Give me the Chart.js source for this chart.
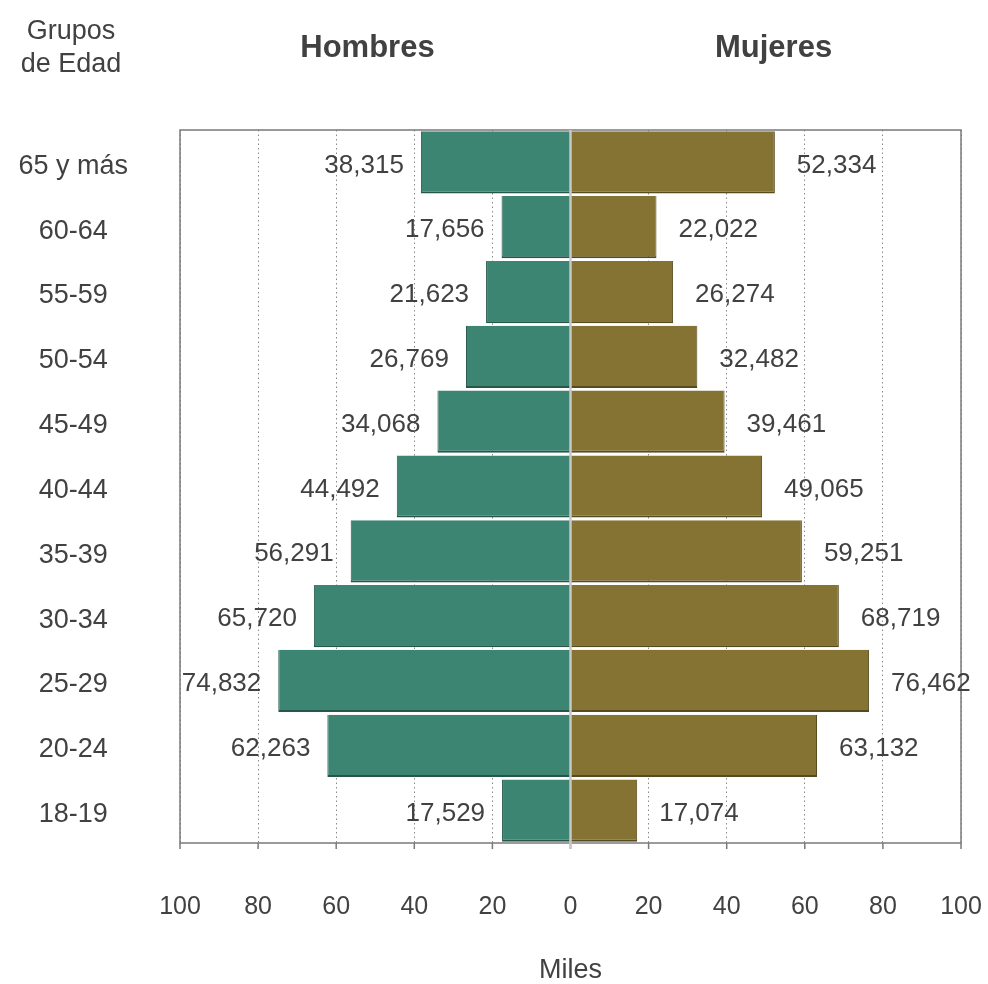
<!DOCTYPE html>
<html>
<head>
<meta charset="utf-8">
<script src="https://cdn.jsdelivr.net/npm/chart.js@4/dist/chart.umd.min.js"></script>
<style>
  html, body { margin: 0; padding: 0; background: #fff; }
  canvas { display: block; }
</style>
</head>
<body>
<canvas id="chart" width="988" height="984"></canvas>
<script>
// grupos de edad, de arriba hacia abajo
const ageGroups = ["65 y más", "60-64", "55-59", "50-54", "45-49", "40-44",
  "35-39", "30-34", "25-29", "20-24", "18-19"];
const menValues = [38315, 17656, 21623, 26769, 34068, 44492, 56291, 65720, 74832, 62263, 17529];
const womenValues = [52334, 22022, 26274, 32482, 39461, 49065, 59251, 68719, 76462, 63132, 17074];
const xTickValues = [-100, -80, -60, -40, -20, 0, 20, 40, 60, 80, 100];

const textColor = "#414141";
const fontFamily = "'Liberation Sans', Arial, sans-serif";

// frame, center line and the small tick marks under the axis
const framePlugin = {
  id: "frame",
  afterDatasetsDraw: (chart) => {
    const { ctx, chartArea } = chart;
    const xScale = chart.scales.x;
    ctx.save();
    ctx.strokeStyle = "#7a7a7a";
    ctx.lineWidth = 1.5;
    ctx.strokeRect(chartArea.left, chartArea.top, chartArea.right - chartArea.left, chartArea.bottom - chartArea.top);
    xTickValues.forEach((v) => {
      const x = xScale.getPixelForValue(v);
      ctx.beginPath();
      ctx.moveTo(x, chartArea.bottom);
      ctx.lineTo(x, chartArea.bottom + 6);
      ctx.stroke();
    });
    const x0 = xScale.getPixelForValue(0);
    ctx.strokeStyle = "#c8c8c8";
    ctx.lineWidth = 2.5;
    ctx.beginPath();
    ctx.moveTo(x0, chartArea.top);
    ctx.lineTo(x0, chartArea.bottom + 6);
    ctx.stroke();
    ctx.restore();
  },
};

// numbers next to each bar
const valueLabels = {
  id: "valueLabels",
  afterDatasetsDraw: (chart) => {
    const { ctx } = chart;
    ctx.save();
    ctx.font = "26px " + fontFamily;
    ctx.fillStyle = textColor;
    ctx.textBaseline = "middle";
    chart.data.datasets.forEach((ds, d) => {
      const meta = chart.getDatasetMeta(d);
      const raw = d === 0 ? menValues : womenValues;
      meta.data.forEach((bar, i) => {
        const label = raw[i].toLocaleString("en-US");
        if (d === 0) {
          ctx.textAlign = "right";
          ctx.fillText(label, bar.x - 17, bar.y + 3);
        } else {
          ctx.textAlign = "left";
          ctx.fillText(label, bar.x + 22, bar.y + 3);
        }
      });
    });
    ctx.restore();
  },
};

// header texts
const headers = {
  id: "headers",
  afterDraw: (chart) => {
    const { ctx } = chart;
    const xScale = chart.scales.x;
    ctx.save();
    ctx.fillStyle = textColor;
    ctx.textAlign = "center";
    ctx.textBaseline = "middle";
    ctx.font = "27px " + fontFamily;
    ctx.fillText("Grupos", 71, 32);
    ctx.fillText("de Edad", 71, 65);
    ctx.font = "bold 31px " + fontFamily;
    ctx.fillText("Hombres", xScale.getPixelForValue(-52), 48);
    ctx.fillText("Mujeres", xScale.getPixelForValue(52), 48);
    ctx.restore();
  },
};

const data = {
  labels: ageGroups,
  datasets: [
    {
      label: "Hombres",
      data: menValues.map((v) => -v / 1000),
      backgroundColor: "#3d8573",
      borderColor: "#24574a",
      borderWidth: { top: 0, bottom: 2, left: 1, right: 0 },
    },
    {
      label: "Mujeres",
      data: womenValues.map((v) => v / 1000),
      backgroundColor: "#857333",
      borderColor: "#574a1f",
      borderWidth: { top: 0, bottom: 2, left: 0, right: 1 },
    },
  ],
};

const options = {
  indexAxis: "y",
  responsive: false,
  animation: false,
  barPercentage: 0.96,
  categoryPercentage: 1,
  layout: { padding: { top: 130, right: 27, left: 0, bottom: 0 } },
  plugins: {
    legend: { display: false },
    tooltip: { enabled: false },
  },
  scales: {
    x: {
      type: "linear",
      stacked: true,
      min: -100,
      max: 100,
      afterBuildTicks: (scale) => {
        scale.ticks = xTickValues.map((v) => ({ value: v }));
      },
      afterFit: (scale) => {
        scale.height = 141;
        scale.paddingLeft = 0;
        scale.paddingRight = 0;
      },
      ticks: {
        callback: (v) => Math.abs(v),
        color: textColor,
        font: { size: 25, family: fontFamily },
        padding: 49,
        maxRotation: 0,
      },
      grid: {
        drawTicks: false,
        color: (ctx) => (ctx.tick && ctx.tick.value === 0 ? "rgba(0,0,0,0)" : "#8a8a8a"),
        lineWidth: 1,
      },
      border: { display: false, dash: [1.5, 3] },
      title: {
        display: true,
        text: "Miles",
        color: textColor,
        font: { size: 27, family: fontFamily },
        padding: { top: 0, bottom: -3 },
      },
    },
    y: {
      type: "category",
      stacked: true,
      afterFit: (scale) => {
        scale.width = 180;
      },
      ticks: {
        color: textColor,
        font: { size: 27, family: fontFamily },
        crossAlign: "center",
        padding: 52,
        labelOffset: 4,
      },
      grid: { display: false, drawTicks: false },
      border: { display: false },
    },
  },
};

const chart = new Chart(document.getElementById("chart"), {
  type: "bar",
  data,
  options,
  plugins: [framePlugin, valueLabels, headers],
});
</script>
</body>
</html>
